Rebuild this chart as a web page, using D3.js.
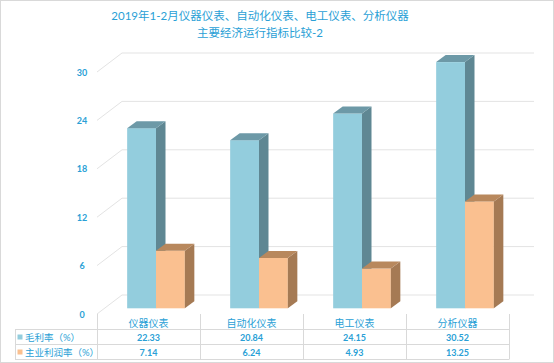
<!DOCTYPE html>
<html>
<head>
<meta charset="utf-8">
<script src="https://cdn.jsdelivr.net/npm/d3@7.9.0/dist/d3.min.js"></script>
<style>
  body { margin: 0; background: #fff; }
  svg text { font-family: Lato, 'Noto Sans CJK SC', sans-serif; fill: #2a9fd6; }
</style>
</head>
<body>
<svg id="chart" width="554" height="363"></svg>
<script>
const categories = ['仪器仪表', '自动化仪表', '电工仪表', '分析仪器'];
const grossMargin = [22.33, 20.84, 24.15, 30.52];
const profitMargin = [7.14, 6.24, 4.93, 13.25];
const seriesNames = ['毛利率（%）', '主业利润率（%）'];
const yTicks = [0, 6, 12, 18, 24, 30];
const titleLines = ['2019年1-2月仪器仪表、自动化仪表、电工仪表、分析仪器', '主要经济运行指标比较-2'];

const series = [
  { name: seriesNames[0], values: grossMargin, front: '#93cddd', side: '#5f8793', top: '#6d99a7' },
  { name: seriesNames[1], values: profitMargin, front: '#fac090', side: '#a57a54', top: '#b8885d' }
];

const svg = d3.select('#chart');

// outer frame
svg.append('rect')
  .attr('x', 0.5).attr('y', 0.5).attr('width', 553).attr('height', 362)
  .attr('fill', 'none').attr('stroke', '#d9d9d9');

// title
svg.selectAll('.title')
  .data(titleLines)
  .join('text')
  .attr('x', 260)
  .attr('y', (d, i) => 19.5 + i * 17)
  .attr('text-anchor', 'middle')
  .attr('font-size', 11.5)
  .text((d) => d);

let x = d3.scaleBand().domain(categories).range([97, 509]);
let y = d3.scaleLinear().domain([0, 30]).range([314, 72]);

// 3D depth of the walls and of the bars
const wall = { dx: 25, dy: -19 };
const barShift = { dx: 7.5, dy: -5.7 };
const barDepth = { dx: 9.5, dy: -7 };
const barWidth = x.bandwidth() * 0.28;
const right = x.range()[1] + wall.dx;

// gridlines on the left wall and back wall
let grid = svg.append('g').attr('fill', 'none').attr('stroke', '#e3e3e3').attr('stroke-width', 1);
yTicks.forEach((t) => {
  let y0 = y(t);
  grid.append('polyline')
    .attr('points', [
      [x.range()[0], y0],
      [x.range()[0] + wall.dx, y0 + wall.dy],
      [right, y0 + wall.dy]
    ].join(' '));
});

// y tick labels
svg.selectAll('.ytick')
  .data(yTicks)
  .join('text')
  .attr('x', 82)
  .attr('y', (d) => y(d) + 3.5)
  .attr('text-anchor', 'middle')
  .attr('font-size', 9)
  .attr('font-weight', 'bold')
  .text((d) => d);

// bars
let bars = svg.append('g');
categories.forEach((cat, ci) => {
  series.forEach((s, si) => {
    let x0 = x(cat) + x.bandwidth() / 2 - barWidth + si * barWidth + barShift.dx;
    let x1 = x0 + barWidth;
    let yBase = y(0) + barShift.dy;
    let yTop = y(s.values[ci]) + barShift.dy;

    bars.append('rect')
      .attr('x', x0).attr('y', yTop)
      .attr('width', barWidth).attr('height', yBase - yTop)
      .attr('fill', s.front);

    bars.append('polygon')
      .attr('points', [
        [x1, yTop], [x1 + barDepth.dx, yTop + barDepth.dy],
        [x1 + barDepth.dx, yBase + barDepth.dy], [x1, yBase]
      ].join(' '))
      .attr('fill', s.side);

    bars.append('polygon')
      .attr('points', [
        [x0, yTop], [x0 + barDepth.dx, yTop + barDepth.dy],
        [x1 + barDepth.dx, yTop + barDepth.dy], [x1, yTop]
      ].join(' '))
      .attr('fill', s.top);
  });
});

// data table
let table = svg.append('g');
let rowLines = [329.5, 344.5, 359.5];
let lineColor = '#d9d9d9';

rowLines.forEach((ry) => {
  table.append('line')
    .attr('x1', 15).attr('x2', x.range()[1])
    .attr('y1', ry).attr('y2', ry)
    .attr('stroke', lineColor);
});

table.append('line')
  .attr('x1', 15.5).attr('x2', 15.5)
  .attr('y1', rowLines[0]).attr('y2', rowLines[2])
  .attr('stroke', lineColor);

categories.concat([null]).forEach((cat) => {
  let vx = cat === null ? x.range()[1] : x(cat);
  table.append('line')
    .attr('x1', Math.round(vx) + 0.5).attr('x2', Math.round(vx) + 0.5)
    .attr('y1', y(0)).attr('y2', rowLines[2])
    .attr('stroke', lineColor);
});

// category header
table.selectAll('.cat')
  .data(categories)
  .join('text')
  .attr('x', (d) => x(d) + x.bandwidth() / 2)
  .attr('y', 327)
  .attr('text-anchor', 'middle')
  .attr('font-size', 10)
  .text((d) => d);

// rows
series.forEach((s, si) => {
  let cy = (rowLines[si] + rowLines[si + 1]) / 2;

  table.append('rect')
    .attr('x', 17.5).attr('y', cy - 2.5)
    .attr('width', 5).attr('height', 5)
    .attr('fill', s.front);

  table.append('text')
    .attr('x', 25)
    .attr('y', cy + 3.5)
    .attr('font-size', 9.5)
    .text(s.name);

  table.selectAll('.val' + si)
    .data(s.values)
    .join('text')
    .attr('x', (d, i) => x(categories[i]) + x.bandwidth() / 2)
    .attr('y', cy + 3.5)
    .attr('text-anchor', 'middle')
    .attr('font-size', 9)
    .attr('font-weight', 'bold')
    .text((d) => d.toFixed(2));
});
</script>
</body>
</html>
